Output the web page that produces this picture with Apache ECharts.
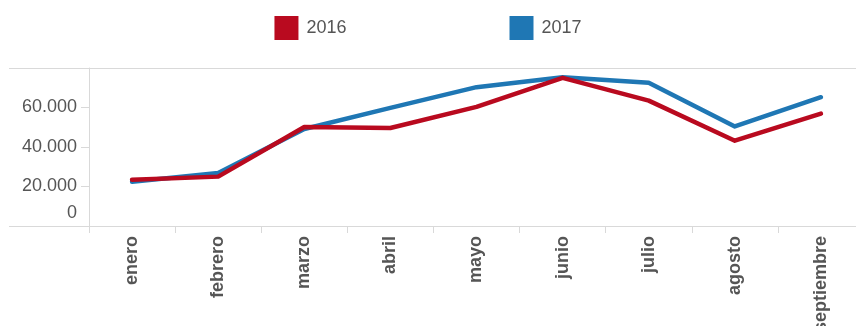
<!DOCTYPE html>
<html>
<head>
<meta charset="utf-8">
<script src="https://cdn.jsdelivr.net/npm/echarts@6/dist/echarts.min.js"></script>
<style>
  html, body { margin: 0; padding: 0; background: #fff; }
  #chart { width: 856px; height: 326px; }
</style>
</head>
<body>
<div id="chart"></div>
<script>
// Monthly figures, January to September
const months = ['enero', 'febrero', 'marzo', 'abril', 'mayo', 'junio', 'julio', 'agosto', 'septiembre'];
const values2016 = [23400, 25000, 50100, 49600, 60300, 75000, 63500, 43200, 56900];
const values2017 = [22400, 26800, 49100, 59800, 70300, 75300, 72500, 50400, 65200];
const seriesNames = ['2016', '2017'];
const yTicks = { min: 0, max: 80000, interval: 20000 };

const RED = '#b90a1f';
const BLUE = '#1f77b4';
const GRID_LINE = '#d9d9d9';
const TEXT = '#555555';
const FONT = '"Liberation Sans", Arial, sans-serif';

const chart = echarts.init(document.getElementById('chart'), null, { renderer: 'canvas' });

// Thousands separator with a dot (es-ES style)
function fmt(v) {
  return String(v).replace(/\B(?=(\d{3})+(?!\d))/g, '.');
}

chart.setOption({
  animation: false,
  textStyle: { fontFamily: FONT },
  legend: {
    data: seriesNames,
    top: 16,
    left: 'center',
    padding: 0,
    icon: 'rect',
    itemWidth: 24,
    itemHeight: 24,
    itemGap: 163,
    textStyle: { fontSize: 18, color: TEXT, fontFamily: FONT, padding: [0, 0, 0, 3] }
  },
  grid: { left: 89, right: -8, top: 68, bottom: 100, containLabel: false, outerBoundsMode: 'none' },
  xAxis: {
    type: 'category',
    data: months,
    boundaryGap: true,
    axisLine: { lineStyle: { color: GRID_LINE, width: 1 } },
    axisTick: { show: true, length: 7, alignWithLabel: false, lineStyle: { color: GRID_LINE } },
    axisLabel: {
      rotate: 90,
      interval: 0,
      margin: 10,
      fontSize: 18,
      fontWeight: 'bold',
      color: TEXT,
      fontFamily: FONT
    },
    splitLine: { show: false }
  },
  yAxis: {
    type: 'value',
    min: yTicks.min,
    max: yTicks.max,
    interval: yTicks.interval,
    axisLine: { show: true, lineStyle: { color: GRID_LINE, width: 1 } },
    axisTick: { show: true, length: 8, lineStyle: { color: GRID_LINE } },
    axisLabel: {
      showMaxLabel: false,
      margin: 12,
      fontSize: 18,
      color: TEXT,
      fontFamily: FONT,
      formatter: function (v) { return v === 0 ? '{z|0}' : fmt(v); },
      rich: { z: { fontSize: 18, color: TEXT, fontFamily: FONT, padding: [0, 0, 26, 0] } }
    },
    // only the baseline and the top line are drawn
    splitLine: { show: true, lineStyle: { color: [GRID_LINE, 'transparent', 'transparent', 'transparent'], width: 1 } }
  },
  series: [
    {
      name: seriesNames[0],
      type: 'line',
      data: values2016,
      symbol: 'none',
      lineStyle: { color: RED, width: 4.5, cap: 'round', join: 'round' },
      itemStyle: { color: RED },
      z: 3
    },
    {
      name: seriesNames[1],
      type: 'line',
      data: values2017,
      symbol: 'none',
      lineStyle: { color: BLUE, width: 4.5, cap: 'round', join: 'round' },
      itemStyle: { color: BLUE },
      z: 2
    }
  ]
});

// Extend the top and bottom rules to the left edge, under the axis labels
const yTop = chart.convertToPixel({ yAxisIndex: 0 }, yTicks.max);
const yBottom = chart.convertToPixel({ yAxisIndex: 0 }, yTicks.min);
const gridLeft = chart.convertToPixel({ xAxisIndex: 0 }, months[0]) -
  (chart.convertToPixel({ xAxisIndex: 0 }, months[1]) - chart.convertToPixel({ xAxisIndex: 0 }, months[0])) / 2;
chart.setOption({
  graphic: [yTop, yBottom].map(function (y) {
    const yy = Math.round(y) + 0.5;
    return {
      type: 'line',
      silent: true,
      shape: { x1: 9, y1: yy, x2: gridLeft, y2: yy },
      style: { stroke: GRID_LINE, lineWidth: 1 }
    };
  })
});
</script>
</body>
</html>
